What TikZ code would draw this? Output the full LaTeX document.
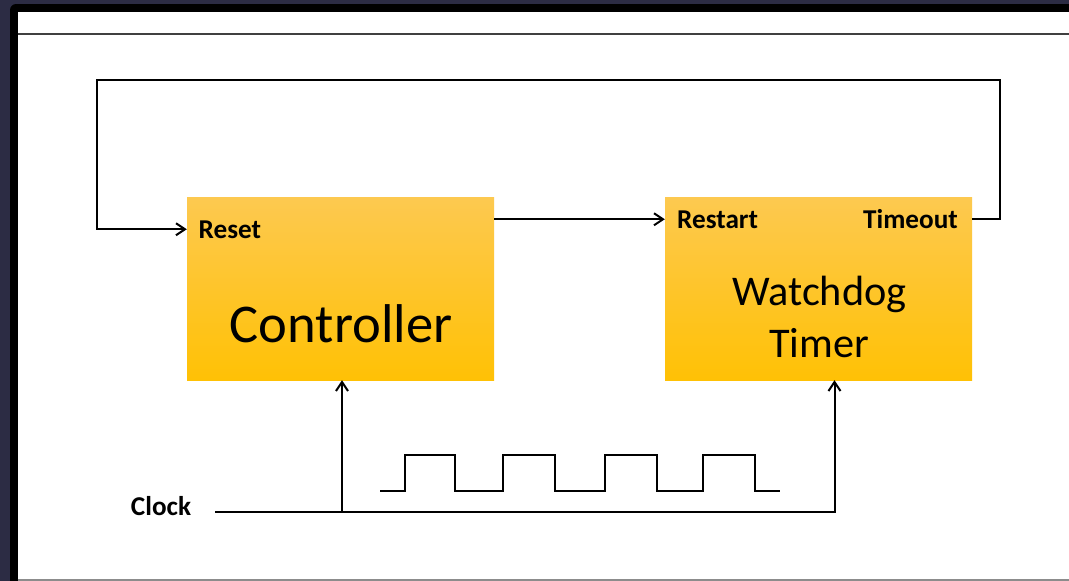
\documentclass[tikz,border=0pt]{standalone}
\usepackage{fontspec}
\setmainfont{Carlito}
\usetikzlibrary{arrows.meta}
\definecolor{framenavy}{RGB}{44,44,68}
\definecolor{boxtop}{RGB}{253,201,80}
\definecolor{boxbot}{RGB}{255,193,5}
\tikzset{
  block/.style={rectangle, minimum width=307pt, minimum height=183pt, inner sep=0pt,
    top color=boxtop, bottom color=boxbot, draw=none},
  portlbl/.style={inner sep=0pt, font=\fontsize{27.2}{31}\selectfont\bfseries},
  biglbl/.style={inner sep=0pt, font=\fontsize{54.6}{62}\selectfont},
  midlbl/.style={inner sep=0pt, font=\fontsize{42.3}{48}\selectfont},
  wire/.style={line width=2pt, black, line join=miter},
  sig/.style={wire, -{Straight Barb[length=9pt,width=12pt,line width=2pt]}},
}
\begin{document}
\begin{tikzpicture}[x=1pt,y=-1pt]
\useasboundingbox (0,0) rectangle (1069,581);
% window frame
\fill[framenavy] (0,0) rectangle (1069,581);
\fill[black, rounded corners=6pt] (10,4) rectangle (1090,600);
\fill[white] (17.5,12) rectangle (1090,579);
\draw[black!75, line width=1.2pt] (17.5,34) -- (1069,34);
\draw[black!45, line width=1.5pt] (17.5,580) -- (1069,580);

% blocks
\node[block] (ctrl) at (340.5,288.5) {};
\node[block] (wdt) at (818.5,288.5) {};

% block texts
\node[portlbl, anchor=base west] (reset) at (198.5,238) {Reset};
\node[portlbl, anchor=base west] (restart) at (677,228) {Restart};
\node[portlbl, anchor=base east] (timeout) at (958,228) {Timeout};
\node[biglbl, anchor=base] (ctrlname) at (341,342) {Controller};
\node[midlbl, anchor=base] (wdtname1) at (819.5,305) {Watchdog};
\node[midlbl, anchor=base] (wdtname2) at (819,357) {Timer};
\node[portlbl, anchor=base] (clock) at (161,515) {Clock};

% connections
\draw[sig] (ctrl.east |- restart) -- (wdt.west |- restart);
\draw[sig] (wdt.east |- timeout) -- ++(28,0) |- (97,80) |- (ctrl.west |- reset);
\coordinate (clkin) at (215,512);
\draw[sig] (clkin) -| ([xshift=16pt]wdt.south);
\draw[sig] ([xshift=1.5pt]ctrl.south |- clkin) -- ([xshift=1.5pt]ctrl.south);

% clock waveform
\draw[wire] (380,490.5) -- (405,490.5) -- (405,454.5) -- (455,454.5) -- (455,490.5)
  -- (503,490.5) -- (503,454.5) -- (555,454.5) -- (555,490.5)
  -- (605,490.5) -- (605,454.5) -- (657,454.5) -- (657,490.5)
  -- (703,490.5) -- (703,454.5) -- (755,454.5) -- (755,490.5) -- (780,490.5);
\end{tikzpicture}
\end{document}
